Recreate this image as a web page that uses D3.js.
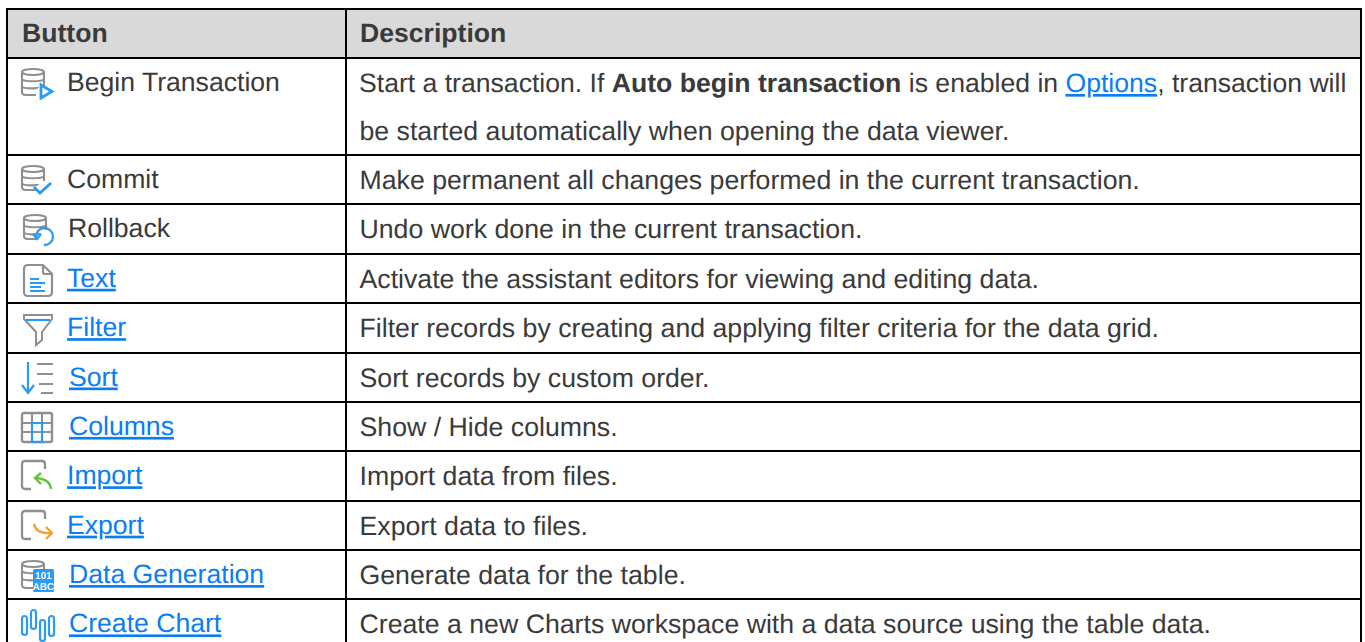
<!DOCTYPE html>
<html><head><meta charset="utf-8">
<script src="https://cdn.jsdelivr.net/npm/d3@7"></script>
<style>html,body{margin:0;padding:0;background:#fff;overflow:hidden}svg{display:block}
text{font-family:"Liberation Sans",Arial,sans-serif;font-size:26.6px;fill:#3a3a3a;text-rendering:geometricPrecision}
text.d{font-size:26.7px}
text.mixed{font-size:26.6px}
.link{fill:#0a7df5;text-decoration:underline}</style></head><body>
<svg id="c" width="1365" height="642"></svg>
<script>
const headers = ["Button","Description"];
const buttons = ["Begin Transaction","Commit","Rollback","Text","Filter","Sort","Columns","Import","Export","Data Generation","Create Chart"];
const linked = [false,false,false,true,true,true,true,true,true,true,true];
const lineCounts = [2,1,1,1,1,1,1,1,1,1,1];
const labelOffsets = [0,0,1,0,0,2,2,0,0,2,2];
const descriptions = [
 [[{t:"Start a transaction. If "},{t:"Auto begin transaction",b:1},{t:" is enabled in "},{t:"Options",a:1},{t:", transaction will"}],
  [{t:"be started automatically when opening the data viewer."}]],
 [[{t:"Make permanent all changes performed in the current transaction."}]],
 [[{t:"Undo work done in the current transaction."}]],
 [[{t:"Activate the assistant editors for viewing and editing data."}]],
 [[{t:"Filter records by creating and applying filter criteria for the data grid."}]],
 [[{t:"Sort records by custom order."}]],
 [[{t:"Show / Hide columns."}]],
 [[{t:"Import data from files."}]],
 [[{t:"Export data to files."}]],
 [[{t:"Generate data for the table."}]],
 [[{t:"Create a new Charts workspace with a data source using the table data."}]]
];
const icons = ["begin","commit","rollback","text","filter","sort","columns","import","export","generate","chart"];

const GRAY="#8f8f8f", BLUE="#2b9bf4";
const svg = d3.select("#c");
const defs = svg.append("defs");
defs.append("filter").attr("id","soft").append("feGaussianBlur").attr("stdDeviation",0.5);

const y = d3.scaleLinear().domain([0,1,3,13]).range([9,58,155,648.8]);
const x = d3.scaleOrdinal().domain(["left","mid","right"]).range([7,346,1361]);

let acc = 1;
const rows = buttons.map((b,i)=>{const r={b,i,top:acc,bottom:acc+lineCounts[i]};acc=r.bottom;return r;});

svg.append("rect").attr("x",x("left")).attr("y",y(0)).attr("width",x("right")-x("left")).attr("height",y(1)-y(0)).attr("fill","#d9d9d9");

svg.selectAll("text.h").data(headers).join("text").attr("class","h")
  .attr("x",(d,i)=>i?360:22).attr("y",42).style("font-weight","bold").text(d=>d);

function db(g,h){
  const p=g.append("g").attr("fill","none").attr("stroke",GRAY).attr("stroke-width",2.1);
  p.append("path").attr("d",`M1 4 C1 0 23 0 23 4 L23 ${h-9} M1 4 L1 ${h-3} Q1 ${h} 5 ${h} L15 ${h}`);
  p.append("path").attr("d","M1 4 C1 8 23 8 23 4");
  p.append("path").attr("d","M1 11 C1 14 23 14 23 11");
  p.append("path").attr("d","M1 18 C1 21 17 21 17 19");
}
const draw={
 begin(g){db(g,27);g.append("path").attr("d","M20 17 L31 23.5 L20 30 Z").attr("fill","none").attr("stroke",BLUE).attr("stroke-width",2.8);},
 commit(g){db(g,25);g.append("path").attr("d","M13 22 L19 28 L30 18").attr("fill","none").attr("stroke",BLUE).attr("stroke-width",2.8);},
 rollback(g){db(g,25);g.append("path").attr("d","M13 23 A8.5 8.5 0 1 1 21 31 M10 20 L14 25 L18 20").attr("fill","none").attr("stroke",BLUE).attr("stroke-width",2.3);},
 text(g){g.append("path").attr("d","M5 1 L20 1 L29 10 L29 28 Q29 32 25 32 L5 32 Q1 32 1 28 L1 5 Q1 1 5 1 M20 1 L20 8 Q20 10 22 10 L29 10").attr("fill","none").attr("stroke",GRAY).attr("stroke-width",2.2);
   g.append("path").attr("d","M7 15 L16 15 M7 19 L22 19 M7 23 L18 23 M7 27 L22 27").attr("stroke",BLUE).attr("stroke-width",1.9);},
 filter(g){g.append("path").attr("d","M1 1 L29 1 L29 5 L19 18 L19 26 L13 31 L13 18 L1 5 Z").attr("fill","none").attr("stroke",GRAY).attr("stroke-width",2);
   g.append("path").attr("d","M3 6 L27 6").attr("stroke",BLUE).attr("stroke-width",2.2);},
 sort(g){g.append("path").attr("d","M6 1 L6 32 M0 24 L6 32 L12 24").attr("fill","none").attr("stroke",BLUE).attr("stroke-width",2.2);
   g.append("path").attr("d","M15 3 L31 3 M15 13 L31 13 M17 23 L31 23 M19 32 L31 32").attr("stroke",GRAY).attr("stroke-width",2.2);},
 columns(g){g.append("rect").attr("x",1).attr("y",1).attr("width",30).attr("height",29).attr("rx",2).attr("fill","none").attr("stroke",GRAY).attr("stroke-width",2.4);
   g.append("path").attr("d","M1 11 L31 11 M1 20 L31 20 M11 1 L11 30 M21 1 L21 30").attr("stroke",GRAY).attr("stroke-width",2);
   g.append("rect").attr("x",11).attr("y",11).attr("width",10).attr("height",19).attr("fill","none").attr("stroke",BLUE).attr("stroke-width",2.1);},
 import(g){g.append("path").attr("d","M10 29 L4 29 Q1 29 1 26 L1 4 Q1 1 4 1 L21 1 Q24 1 24 4 L24 9").attr("fill","none").attr("stroke",GRAY).attr("stroke-width",2.3);
   g.append("path").attr("d","M30 29 Q29 19 15 18 M20 13 L14 18 L20 24").attr("fill","none").attr("stroke","#62c23a").attr("stroke-width",2.4);},
 export(g){g.append("path").attr("d","M10 29 L4 29 Q1 29 1 26 L1 4 Q1 1 4 1 L21 1 Q24 1 24 4 L24 9").attr("fill","none").attr("stroke",GRAY).attr("stroke-width",2.3);
   g.append("path").attr("d","M13 14 Q15 24 30 23 M25 17 L31 23 L25 29").attr("fill","none").attr("stroke","#f7a035").attr("stroke-width",2.4);},
 generate(g){db(g,28);g.append("rect").attr("x",12).attr("y",9).attr("width",21).attr("height",23).attr("rx",1.5).attr("fill",BLUE);
   g.append("text").attr("x",22.5).attr("y",18.5).attr("text-anchor","middle").style("font-size","10px").style("font-weight","bold").style("fill","#fff").text("101");
   g.append("text").attr("x",22.5).attr("y",29.5).attr("text-anchor","middle").style("font-size","10px").style("font-weight","bold").style("fill","#fff").text("ABC");},
 chart(g){const pill=(x0,y0,h)=>g.append("rect").attr("x",x0).attr("y",y0).attr("width",5).attr("height",h).attr("rx",2.5).attr("fill","none").attr("stroke",BLUE).attr("stroke-width",2.2);
   pill(1,7,19);pill(10,1,19);pill(19,11,21);pill(28,7,20);}
};
const iconPos={begin:[21,68],commit:[21,165],rollback:[23,214],text:[23,264],filter:[23,314],sort:[22,361],columns:[21,412],import:[21,460],export:[21,510],generate:[21,560],chart:[21,609]};
const ig=svg.append("g").attr("filter","url(#soft)");
icons.forEach(k=>{const g=ig.append("g").attr("transform",`translate(${iconPos[k]})`);draw[k](g);});

svg.selectAll("text.b").data(rows).join("text").attr("class",d=>"b"+(linked[d.i]?" link":""))
  .attr("x",d=>67+labelOffsets[d.i]).attr("y",d=>y(d.top)+33).text(d=>d.b);

rows.forEach(r=>{
  descriptions[r.i].forEach((line,li)=>{
    const t=svg.append("text").attr("class",line.length>1?"mixed":"d").attr("x",line.length>1?359:359.5).attr("y",y(r.top)+34+li*48);
    line.forEach(s=>{const sp=t.append("tspan").text(s.t);
      if(s.b)sp.style("font-weight","bold");
      if(s.a)sp.attr("class","link");});
  });
});

const lines=svg.append("g").attr("stroke","#000").attr("stroke-width",2).attr("shape-rendering","crispEdges");
[0,1].concat(rows.map(r=>r.bottom)).forEach(v=>{const yy=Math.round(y(v));
  lines.append("line").attr("x1",x("left")-1).attr("x2",x("right")+1).attr("y1",yy).attr("y2",yy);});
["left","mid","right"].forEach(k=>lines.append("line").attr("x1",x(k)).attr("x2",x(k)).attr("y1",y(0)).attr("y2",642));
</script></body></html>
